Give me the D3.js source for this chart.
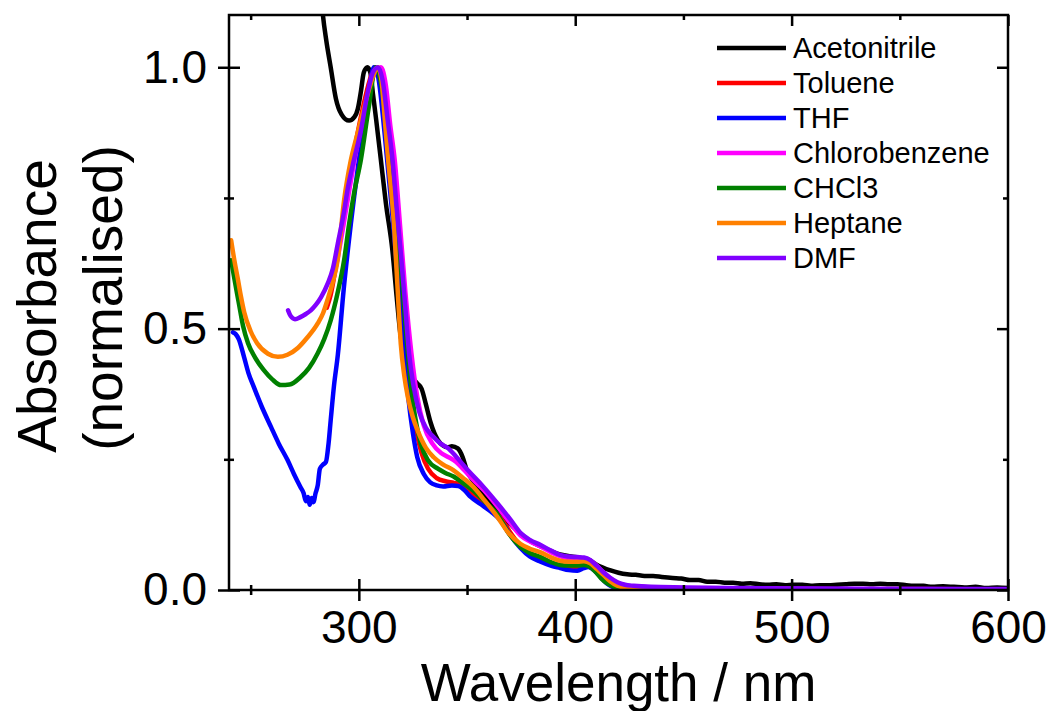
<!DOCTYPE html>
<html>
<head>
<meta charset="utf-8">
<script src="https://cdn.jsdelivr.net/npm/d3@7"></script>
<style>
  body { margin: 0; background: #fff; }
  text { font-family: "Liberation Sans", Arial, sans-serif; fill: #000; }
</style>
</head>
<body>
<div id="chart"></div>
<script>
// wavelength (nm) / normalised absorbance pairs
const acetonitrile = [[281.5,1.2],[283.4,1.1],[285,1.05],[287,1.0],[289.4,0.94],[292,0.91],[295.5,0.898],[298,0.905],[299.5,0.92],[301,0.955],[302.3,0.99],[304,1.0],[305.3,0.99],[306.5,0.95],[308,0.9],[310.2,0.822],[312.5,0.74],[315.5,0.65],[317.5,0.56],[319.2,0.49],[321,0.45],[323,0.42],[325,0.405],[327,0.395],[329,0.385],[331,0.355],[333.2,0.32],[336.5,0.287],[339,0.276],[341,0.273],[343,0.275],[345.7,0.271],[348,0.254],[350,0.228],[353,0.208],[356,0.19],[360,0.172],[365,0.147],[371.5,0.12],[378,0.097],[385,0.082],[393,0.068],[400,0.063],[406,0.058],[411,0.046],[416,0.038],[420,0.033],[424,0.030],[428,0.029],[432,0.027],[436,0.027],[440,0.025],[445,0.023],[449,0.022],[453,0.019],[457,0.019],[461,0.016],[465,0.016],[469,0.014],[473,0.014],[477,0.012],[481,0.013],[485,0.011],[489,0.010],[493,0.011],[497,0.009],[501,0.010],[505,0.010],[509,0.008],[513,0.009],[517,0.009],[521,0.010],[525,0.011],[529,0.012],[533,0.012],[537,0.011],[541,0.012],[545,0.011],[549,0.011],[553,0.009],[557,0.008],[561,0.008],[565,0.006],[570,0.007],[575,0.006],[580,0.005],[585,0.006],[590,0.004],[595,0.005],[600,0.004]];
const toluene = [[285.2,0.54],[287,0.565],[290,0.635],[293,0.715],[296,0.795],[299,0.865],[302,0.925],[305,0.975],[307.5,1.0],[309.5,0.985],[312,0.9],[315,0.76],[318,0.6],[320.5,0.47],[323,0.385],[326,0.315],[329,0.262],[332,0.232],[336,0.214],[340,0.208],[344,0.205],[347,0.202],[352,0.184],[357,0.168],[361,0.155],[365.5,0.138],[370,0.11],[374.8,0.084],[379,0.07],[384,0.058],[389,0.05],[393,0.045],[397,0.042],[401,0.041],[405,0.045],[408,0.042],[411.7,0.027],[415,0.014],[418,0.006],[422,0.002],[428,0],[600,0]];
const thf = [[241.8,0.493],[243,0.49],[244.5,0.48],[247,0.445],[249,0.415],[251.5,0.388],[255,0.352],[259.4,0.312],[263,0.28],[267,0.249],[270,0.222],[273,0.197],[274.5,0.185],[275.5,0.17],[276.5,0.178],[277.3,0.163],[278.2,0.176],[279,0.168],[280,0.185],[281,0.2],[282,0.232],[283.5,0.24],[284.8,0.245],[286,0.28],[287,0.325],[288.5,0.39],[290.3,0.45],[293,0.575],[296.3,0.7],[300,0.822],[302.5,0.9],[305,0.965],[307,1.0],[309,0.98],[312,0.87],[315,0.74],[318,0.6],[320.5,0.48],[323,0.363],[325,0.3],[327,0.254],[330,0.222],[333,0.206],[336,0.2],[339,0.198],[343,0.2],[346,0.199],[349,0.19],[351.7,0.178],[356,0.165],[361,0.15],[365.5,0.133],[370,0.105],[374.8,0.08],[379,0.064],[384,0.054],[389,0.046],[393,0.042],[397,0.038],[401,0.037],[404,0.042],[406,0.044],[409,0.037],[411.7,0.025],[414.5,0.013],[417.7,0.005],[421,0.001],[426,0],[600,0]];
const chlorobenzene = [[288.5,0.6],[290,0.63],[293,0.7],[296,0.775],[299,0.845],[302,0.905],[305,0.96],[308,0.995],[310.2,1.0],[312.5,0.965],[314.5,0.89],[316.6,0.822],[319,0.7],[321.5,0.57],[324.3,0.453],[327,0.37],[330,0.315],[334,0.28],[338,0.262],[341,0.255],[345,0.245],[348.5,0.23],[353,0.21],[358,0.19],[364,0.16],[370,0.128],[374.8,0.104],[379,0.093],[384,0.083],[389,0.072],[393,0.065],[397,0.061],[401,0.06],[405,0.058],[408,0.053],[413,0.034],[416,0.023],[419.5,0.014],[423,0.009],[427,0.007],[435,0.005],[450,0.004],[480,0.003],[520,0.002],[560,0.002],[600,0.001]];
const chcl3 = [[241,0.631],[242.5,0.595],[244.5,0.55],[246.5,0.505],[248.8,0.472],[252,0.445],[256,0.421],[260,0.403],[264,0.392],[268,0.393],[273,0.407],[277,0.425],[281,0.453],[284,0.48],[287,0.516],[290,0.565],[293.2,0.631],[295.5,0.7],[297.8,0.759],[300.9,0.822],[304.6,0.924],[307.8,1.0],[310,0.975],[312.5,0.9],[314.8,0.822],[317,0.73],[319.4,0.62],[321.5,0.51],[322.6,0.455],[325,0.36],[328.6,0.28],[332,0.248],[336.5,0.232],[340,0.224],[343.8,0.217],[348,0.205],[353,0.19],[358,0.17],[364,0.145],[369,0.11],[374.8,0.082],[379,0.071],[384,0.063],[389,0.053],[393,0.048],[397,0.047],[401,0.047],[404,0.048],[407,0.044],[410,0.032],[412,0.022],[415,0.012],[418,0.006],[422,0.002],[428,0],[600,0]];
const heptane = [[241,0.669],[242.5,0.63],[244,0.597],[245.5,0.562],[247,0.532],[250,0.495],[253,0.472],[258,0.452],[262.6,0.446],[267,0.45],[271.8,0.463],[276,0.482],[281,0.51],[283.5,0.53],[285.5,0.555],[288,0.59],[290.2,0.631],[293.2,0.746],[296.3,0.822],[299.5,0.875],[302.5,0.924],[305,0.962],[307,0.988],[308.8,1.0],[310.5,0.975],[312,0.9],[313.4,0.83],[316.3,0.695],[318,0.57],[319.4,0.47],[321,0.41],[322.6,0.37],[325,0.33],[327.2,0.305],[331,0.272],[334.6,0.254],[339,0.24],[343.8,0.229],[348,0.215],[353,0.197],[358,0.172],[364,0.14],[369,0.11],[374.8,0.088],[379,0.079],[384,0.072],[389,0.062],[393,0.056],[397,0.054],[401,0.054],[404,0.055],[407,0.051],[410,0.04],[413,0.029],[416,0.017],[419.5,0.008],[423,0.004],[428,0.002],[440,0],[600,0]];
const dmf = [[267.3,0.535],[268.5,0.524],[270.5,0.518],[273,0.522],[275.5,0.528],[277.8,0.535],[280,0.545],[282.5,0.56],[285.7,0.587],[288,0.615],[290.3,0.663],[293,0.72],[295,0.771],[297.7,0.822],[301,0.88],[304,0.95],[306.5,0.99],[308.8,1.0],[311,0.975],[313.3,0.9],[315.6,0.822],[317.5,0.73],[319.5,0.64],[321.5,0.54],[323.2,0.453],[325.4,0.388],[328,0.34],[331,0.31],[334,0.295],[337.8,0.28],[341,0.272],[345,0.255],[350.2,0.23],[357,0.2],[364,0.166],[370,0.135],[374.8,0.109],[379,0.096],[384,0.086],[389,0.075],[393,0.067],[397,0.064],[401,0.063],[404,0.062],[407,0.057],[410,0.046],[413,0.034],[416,0.024],[419.5,0.015],[423,0.01],[427,0.008],[435,0.006],[450,0.005],[470,0.004],[500,0.003],[550,0.002],[600,0.002]];

const solvents = ["Acetonitrile", "Toluene", "THF", "Chlorobenzene", "CHCl3", "Heptane", "DMF"];
const series = [acetonitrile, toluene, thf, chlorobenzene, chcl3, heptane, dmf];
const colours = ["#000000", "#ff0000", "#0000ff", "#ff00ff", "#008000", "#ff8000", "#8000ff"];

const xTicks = [300, 400, 500, 600];
const xMinor = [250, 350, 450, 550];
const yTicks = [0, 0.5, 1.0];
const yMinor = [0.25, 0.75];

const width = 1055, height = 711;
const plotLeft = 229, plotRight = 1008, plotTop = 15, plotBottom = 590;

const svg = d3.select("#chart").append("svg")
  .attr("width", width)
  .attr("height", height);

const x = d3.scaleLinear().domain([240, 600]).range([plotLeft, plotRight]);
const y = d3.scaleLinear().domain([0, 1.1]).range([plotBottom, plotTop]);

svg.append("clipPath").attr("id", "plot")
  .append("rect")
  .attr("x", plotLeft).attr("y", plotTop)
  .attr("width", plotRight - plotLeft).attr("height", plotBottom - plotTop);

const line = d3.line()
  .x(d => x(d[0]))
  .y(d => y(d[1]))
  .curve(d3.curveMonotoneX);

svg.append("g").attr("clip-path", "url(#plot)")
  .selectAll("path")
  .data(series)
  .join("path")
  .attr("d", line)
  .attr("fill", "none")
  .attr("stroke", (d, i) => colours[i])
  .attr("stroke-width", 4.5)
  .attr("stroke-linejoin", "round")
  .attr("stroke-linecap", "round");

// axes: ticks cross the left and bottom spines, point inwards on top and right
const styleAxis = g => {
  g.select(".domain").remove();
  g.selectAll(".tick line").attr("stroke", "#000").attr("stroke-width", 2.5);
  g.selectAll("text").attr("font-size", 46).attr("fill", "#000")
    .attr("font-family", '"Liberation Sans", Arial, sans-serif');
};

svg.append("g").attr("transform", `translate(0,${plotBottom})`)
  .call(d3.axisBottom(x).tickValues(xTicks).tickFormat(d3.format("d")).tickSize(11).tickPadding(9))
  .call(styleAxis)
  .call(g => g.selectAll(".tick line").attr("y1", -11));
svg.append("g").attr("transform", `translate(0,${plotBottom})`)
  .call(d3.axisBottom(x).tickValues(xMinor).tickFormat("").tickSize(5))
  .call(styleAxis)
  .call(g => g.selectAll(".tick line").attr("y1", -5));

svg.append("g").attr("transform", `translate(${plotLeft},0)`)
  .call(d3.axisLeft(y).tickValues(yTicks).tickFormat(d3.format(".1f")).tickSize(11).tickPadding(11))
  .call(styleAxis)
  .call(g => g.selectAll(".tick line").attr("x1", 11));
svg.append("g").attr("transform", `translate(${plotLeft},0)`)
  .call(d3.axisLeft(y).tickValues(yMinor).tickFormat("").tickSize(5))
  .call(styleAxis)
  .call(g => g.selectAll(".tick line").attr("x1", 5));

svg.append("g").attr("transform", `translate(0,${plotTop})`)
  .call(d3.axisTop(x).tickValues(xTicks).tickFormat("").tickSize(-11))
  .call(styleAxis);
svg.append("g").attr("transform", `translate(0,${plotTop})`)
  .call(d3.axisTop(x).tickValues(xMinor).tickFormat("").tickSize(-5))
  .call(styleAxis);

svg.append("g").attr("transform", `translate(${plotRight},0)`)
  .call(d3.axisRight(y).tickValues(yTicks).tickFormat("").tickSize(-11))
  .call(styleAxis);
svg.append("g").attr("transform", `translate(${plotRight},0)`)
  .call(d3.axisRight(y).tickValues(yMinor).tickFormat("").tickSize(-5))
  .call(styleAxis);

svg.append("rect")
  .attr("x", plotLeft).attr("y", plotTop)
  .attr("width", plotRight - plotLeft).attr("height", plotBottom - plotTop)
  .attr("fill", "none")
  .attr("stroke", "#000")
  .attr("stroke-width", 2.5);

// axis titles
svg.append("text")
  .attr("x", (plotLeft + plotRight) / 2).attr("y", 701)
  .attr("text-anchor", "middle")
  .attr("font-size", 53)
  .text("Wavelength / nm");

svg.append("text")
  .attr("transform", "translate(56,306) rotate(-90)")
  .attr("text-anchor", "middle")
  .attr("font-size", 55)
  .text("Absorbance");
svg.append("text")
  .attr("transform", "translate(122,298) rotate(-90)")
  .attr("text-anchor", "middle")
  .attr("font-size", 55)
  .text("(normalised)");

// legend
const legend = svg.append("g")
  .selectAll("g")
  .data(solvents)
  .join("g")
  .attr("transform", (d, i) => `translate(717,${48 + i * 35})`);

legend.append("line")
  .attr("x1", 0).attr("x2", 69)
  .attr("stroke", (d, i) => colours[i])
  .attr("stroke-width", 4.5);

legend.append("text")
  .attr("x", 76).attr("y", 10)
  .attr("font-size", 29)
  .text(d => d);
</script>
</body>
</html>
